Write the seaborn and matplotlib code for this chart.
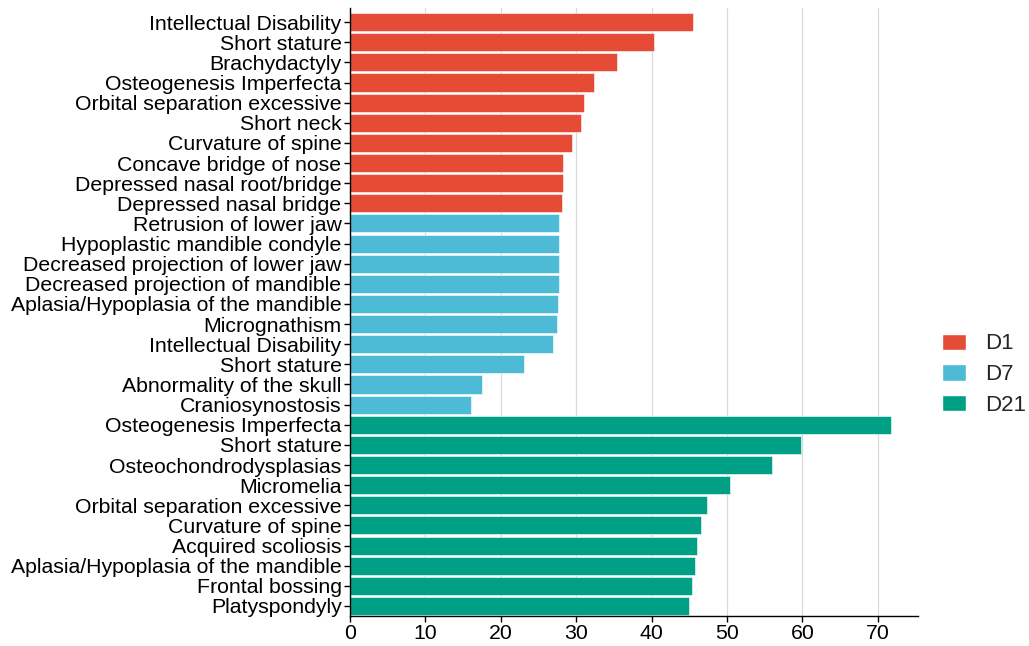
import matplotlib
matplotlib.use("Agg")
import matplotlib.pyplot as plt
import seaborn as sns
import pandas as pd
from matplotlib.patches import Patch

d1_labels = ["Intellectual Disability", "Short stature", "Brachydactyly", "Osteogenesis Imperfecta",
             "Orbital separation excessive", "Short neck", "Curvature of spine",
             "Concave bridge of nose", "Depressed nasal root/bridge", "Depressed nasal bridge"]
d1_values = [45.5, 40.3, 35.4, 32.3, 31.0, 30.7, 29.5, 28.2, 28.2, 28.1]

d7_labels = ["Retrusion of lower jaw", "Hypoplastic mandible condyle", "Decreased projection of lower jaw",
             "Decreased projection of mandible", "Aplasia/Hypoplasia of the mandible", "Micrognathism",
             "Intellectual Disability", "Short stature", "Abnormality of the skull", "Craniosynostosis"]
d7_values = [27.7, 27.7, 27.7, 27.7, 27.6, 27.5, 26.9, 23.1, 17.5, 16.0]

d21_labels = ["Osteogenesis Imperfecta", "Short stature", "Osteochondrodysplasias", "Micromelia",
              "Orbital separation excessive", "Curvature of spine", "Acquired scoliosis",
              "Aplasia/Hypoplasia of the mandible", "Frontal bossing", "Platyspondyly"]
d21_values = [71.7, 59.8, 55.9, 50.4, 47.3, 46.5, 46.0, 45.7, 45.4, 45.0]

groups = ["D1", "D7", "D21"]
colors = ["#E64B35", "#4DBBD5", "#00A087"]
x_ticks = [0, 10, 20, 30, 40, 50, 60, 70]

labels = d1_labels + d7_labels + d21_labels
values = d1_values + d7_values + d21_values
grp = ["D1"] * len(d1_labels) + ["D7"] * len(d7_labels) + ["D21"] * len(d21_labels)
df = pd.DataFrame({"key": [f"{g}_{i}" for i, g in enumerate(grp)],
                   "label": labels, "value": values, "group": grp})

sns.set_theme(style="white")
plt.rcParams["font.family"] = ["Liberation Sans", "DejaVu Sans"]

fig = plt.figure(figsize=(10.29, 6.46), dpi=100)
ax = fig.add_axes([0.340, 0.0464, 0.552, 0.9412])

sns.barplot(data=df, y="key", x="value", hue="group", hue_order=groups,
            palette=colors, order=list(df["key"]), dodge=False, width=0.9,
            orient="h", ax=ax, legend=False, edgecolor="white", linewidth=0.4,
            saturation=1)

ax.set_yticks(range(len(labels)))
ax.set_yticklabels(labels, fontsize=15.3, color="black")
ax.set_xticks(x_ticks)
ax.set_xticklabels([str(t) for t in x_ticks], fontsize=15.3, color="black")
ax.set_xlim(0, 75.3)
ax.set_ylim(len(labels) - 0.5, -0.7)
ax.set_xlabel("")
ax.set_ylabel("")
ax.set_axisbelow(True)
ax.xaxis.grid(True, color="#d9d9d9", linewidth=0.9)
ax.yaxis.grid(False)
for s in ["top", "right"]:
    ax.spines[s].set_visible(False)
for s in ["left", "bottom"]:
    ax.spines[s].set_color("black")
    ax.spines[s].set_linewidth(1.0)
ax.tick_params(axis="both", which="both", length=4, width=1, color="black",
               left=True, bottom=True, pad=2)

handles = [Patch(facecolor=c, edgecolor="white", label=g) for g, c in zip(groups, colors)]
fig.legend(handles=handles, loc="center left", bbox_to_anchor=(0.9155, 0.42),
           frameon=False, fontsize=16, handlelength=1.1, handleheight=0.75,
           labelspacing=0.44, handletextpad=0.85, borderpad=0, borderaxespad=0)

fig.savefig("out.png", dpi=100, facecolor="white")
